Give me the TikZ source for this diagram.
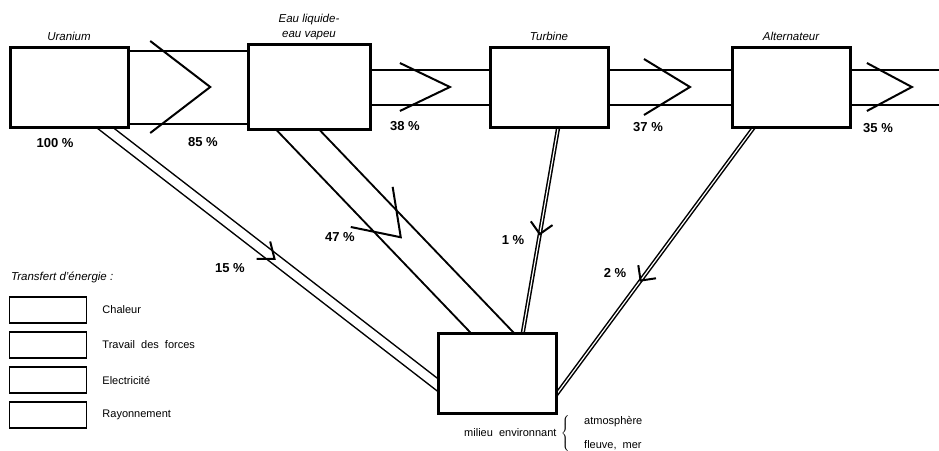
\documentclass[tikz,border=0pt]{standalone}
\usepackage{fontspec}
\setmainfont{Liberation Sans}
\usepackage{tikz}
\usetikzlibrary{
  positioning,
  backgrounds,
  decorations.markings
}

\begin{document}
\begin{tikzpicture}[
      x=1pt,y=-1pt,
      stage/.style={
         rectangle,
         minimum width=118pt,
         minimum height=80pt,
         line width=3pt,
         draw=black,
         fill=white
      },
      keybox/.style={
         rectangle,
         minimum width=77pt,
         minimum height=26pt,
         line width=1.5pt,
         draw=black,
         fill=white
      },
      title/.style={
         font=\fontsize{11.5}{15}\selectfont\itshape,
         inner sep=1pt,
         align=center
      },
      percent/.style={
         font=\fontsize{13}{15}\selectfont\bfseries,
         inner sep=1pt
      },
      keytext/.style={
         font=\fontsize{11}{13}\selectfont,
         inner sep=1pt,
         anchor=west
      },
      band/.style={
         line width=2pt,
         double distance=#1,
         shorten <=-20pt, shorten >=-20pt
      },
      chevron/.style n args={3}{
         postaction={decorate},
         decoration={markings,
            mark=at position #1 with {\draw[line width=2pt, shorten <=0pt, shorten >=0pt] (-#2,#3) -- (0,0) -- (-#2,-#3);}}
      },
      node distance=117pt
    ]
    \useasboundingbox (0,0) rectangle (939,450);

    \node (ura) [stage] at (69,87) {};
    \node (eau) [stage, minimum width=122pt, minimum height=85pt, right=of ura] {};
    \node (tur) [stage, right=of eau] {};
    \node (alt) [stage, right=121pt of tur] {};
    \node (env) [stage] at (497,373) {};
    \coordinate (out) at (939,87);

    \node (ura-t) [title, above=4pt of ura] {Uranium};
    \node (eau-t) [title, above=2pt of eau] {Eau liquide-\\eau vapeu};
    \node (tur-t) [title, above=4pt of tur] {Turbine};
    \node (alt-t) [title, above=4pt of alt] {Alternateur};

    \node (p100) [percent] at (55,143) {100~\%};
    \node (p85) [percent] at (203,142) {85~\%};
    \node (p38) [percent] at (405,126) {38~\%};
    \node (p37) [percent] at (648,127) {37~\%};
    \node (p35) [percent] at (878,128) {35~\%};
    \node (p15) [percent] at (230,268) {15~\%};
    \node (p47) [percent] at (340,237) {47~\%};
    \node (p1) [percent] at (513,240) {1~\%};
    \node (p2) [percent] at (615,273) {2~\%};

    \begin{scope}[on background layer]
      \draw[band=71pt, chevron={0.69}{60}{46}] (ura.east) -- (eau.west);
      \draw[band=33pt, chevron={0.67}{50}{24}] (eau.east) -- (tur.west);
      \draw[band=33pt, chevron={0.665}{46}{28}] (tur.east) -- (alt.west);
      \draw[band=33pt, chevron={0.69}{45}{24}] (alt.east) -- (out);
      \draw[band=8.5pt, line width=1.5pt, chevron={0.51}{14}{11}] ([xshift=37pt]ura.south) -- ([yshift=-11pt]env.west);
      \draw[band=29pt, chevron={0.53}{42}{29}] ([xshift=-10pt]eau.south) -- ([xshift=-6pt]env.north);
      \draw[band=1.2pt, line width=1.5pt, chevron={0.52}{11}{11}] ([xshift=9pt]tur.south) -- ([xshift=26pt]env.north);
      \draw[band=1.2pt, line width=1.5pt, chevron={0.575}{11}{11}] ([xshift=-38pt]alt.south) -- ([yshift=-20pt]env.east);
    \end{scope}

    \node (key-t) [title, anchor=west] at (10,277) {Transfert d'énergie :};
    \node (key1) [keybox] at (48,310) {};
    \node (key2) [keybox, below=7.5pt of key1] {};
    \node (key3) [keybox, below=7.5pt of key2] {};
    \node (key4) [keybox, below=7.5pt of key3] {};
    \node (key1-t) [keytext, right=14pt of key1] {Chaleur};
    \node (key2-t) [keytext, right=14pt of key2] {Travail\ \ des\ \ forces};
    \node (key3-t) [keytext, right=14pt of key3] {Electricité};
    \node (key4-t) [keytext, right=14pt of key4] {Rayonnement};

    \node (env-t) [keytext] at (463,433) {milieu\ \ environnant};
    \node (env-b) [inner sep=0pt, right=3pt of env-t] {$\left\{\vrule height 15pt depth 15pt width 0pt\right.$};
    \node (env-a) [keytext] at (583,422) {atmosphère};
    \node (env-f) [keytext] at (583,445) {fleuve,\ \ mer};
\end{tikzpicture}
\end{document}
